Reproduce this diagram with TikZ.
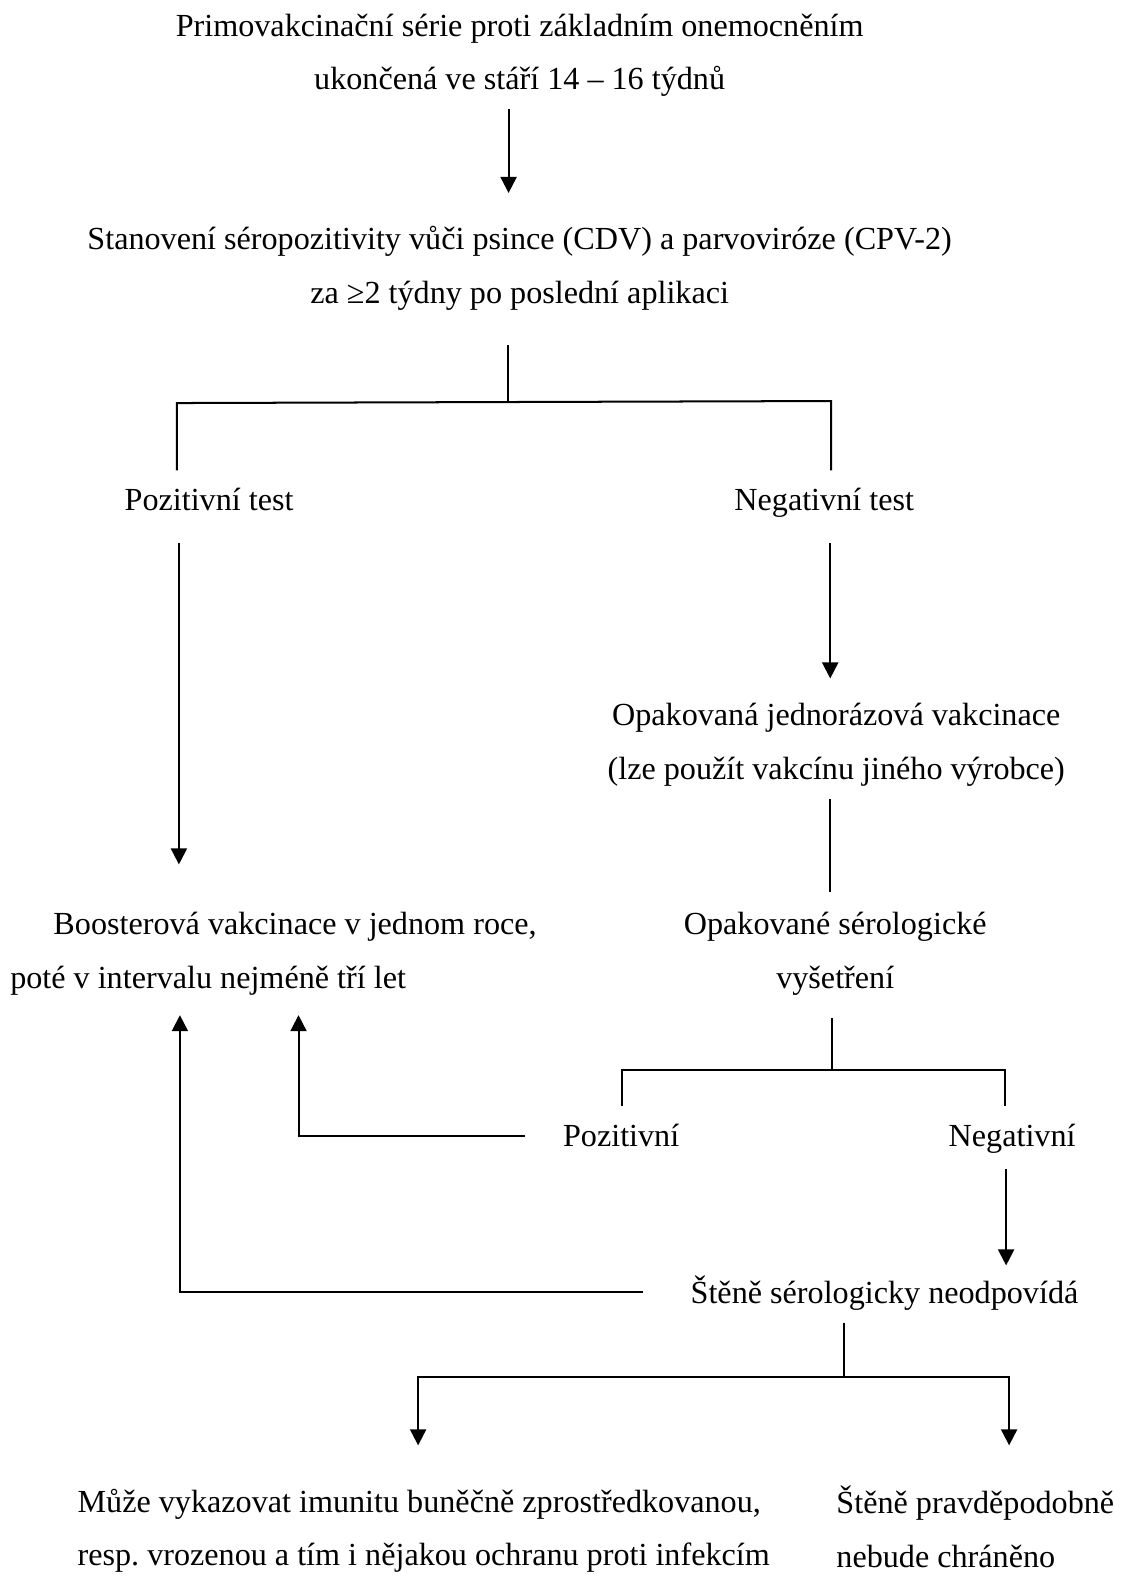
\documentclass[tikz,border=0pt]{standalone}
\usepackage{fontspec}
\setmainfont{Liberation Serif}
\usetikzlibrary{arrows.meta}
\frenchspacing
\begin{document}
\begin{tikzpicture}[x=1pt,y=-1pt,
  txt/.style={inner sep=0pt, font=\fontsize{32}{53}\selectfont},
  one/.style={txt, text height=22pt, text depth=7pt},
  ln/.style={line width=2pt},
  arr/.style={ln,-{Triangle[length=16pt,width=16pt]}}]
\useasboundingbox[fill=white] (0,0) rectangle (1122,1568);
% nodes
\node[txt,align=center] (t1) at (517,55) {Primovakcinační série proti základním onemocněním\\ukončená ve stáří 14 – 16 týdnů};
\node[txt,align=center] (t2) at (517,267) {Stanovení séropozitivity vůči psince (CDV) a parvoviróze (CPV-2)\\za ≥2 týdny po poslední aplikaci};
\node[one] (pt) at (208,500) {Pozitivní test};
\node[one] (nt) at (820,500) {Negativní test};
\node[txt,align=center] (ov) at (832,741) {Opakovaná jednorázová vakcinace\\(lze použít vakcínu jiného výrobce)};
\node[txt,align=left,anchor=west] (bv) at (10,949) {\hspace*{43pt}Boosterová vakcinace v jednom roce,\\poté v intervalu nejméně tří let};
\node[txt,align=center] (os) at (831,949) {Opakované sérologické\\vyšetření};
\node[one] (p2) at (618,1133) {Pozitivní};
\node[one] (n2) at (1007,1133) {Negativní};
\node[one] (sn) at (880,1289) {Štěně sérologicky neodpovídá};
\node[txt,align=left,anchor=west] (mv) at (77,1523) {Může vykazovat imunitu buněčně zprostředkovanou,\\resp. vrozenou a tím i nějakou ochranu proti infekcím};
\node[txt,align=left,anchor=west] (sp) at (832,1519) {Štěně pravděpodobně\\nebude chráněno};
% coordinates
\coordinate (a1) at (506,108); \coordinate (a2) at (506,192);
\coordinate (b0) at (505,343); \coordinate (b1) at (505,400);
\coordinate (bl) at (176,401); \coordinate (br) at (827,399);
\coordinate (bld) at (176,468); \coordinate (brd) at (827,468);
\coordinate (c1) at (178,540); \coordinate (c2) at (178,860);
\coordinate (d1) at (826,540); \coordinate (d2) at (826,675);
\coordinate (e1) at (826,795); \coordinate (e2) at (826,887);
\coordinate (f0) at (828,1013); \coordinate (f1) at (828,1065);
\coordinate (fl) at (619,1065); \coordinate (fr) at (1000,1065);
\coordinate (fld) at (619,1100); \coordinate (frd) at (1000,1100);
\coordinate (g1) at (522,1130); \coordinate (g2) at (297,1130); \coordinate (g3) at (297,1010);
\coordinate (h1) at (1001,1163); \coordinate (h2) at (1001,1259);
\coordinate (k1) at (640,1285); \coordinate (k2) at (179,1285); \coordinate (k3) at (179,1010);
\coordinate (m0) at (840,1316); \coordinate (m1) at (840,1370);
\coordinate (mld) at (416,1438); \coordinate (mrd) at (1004,1438);
% connectors
\draw[arr] (a1) -- (a2);
\draw[ln] (b0) -- (b1);
\draw[ln] (bld) -- (bl) -- (br) -- (brd);
\draw[arr] (c1) -- (c2);
\draw[arr] (d1) -- (d2);
\draw[ln] (e1) -- (e2);
\draw[ln] (f0) -- (f1);
\draw[ln] (fld) -- (fl) -- (fr) -- (frd);
\draw[arr] (g1) -- (g2) -- (g3);
\draw[arr] (h1) -- (h2);
\draw[arr] (k1) -- (k2) -- (k3);
\draw[ln] (m0) -- (m1);
\draw[arr] (m1) -| (mld);
\draw[arr] (m1) -| (mrd);
\end{tikzpicture}
\end{document}
